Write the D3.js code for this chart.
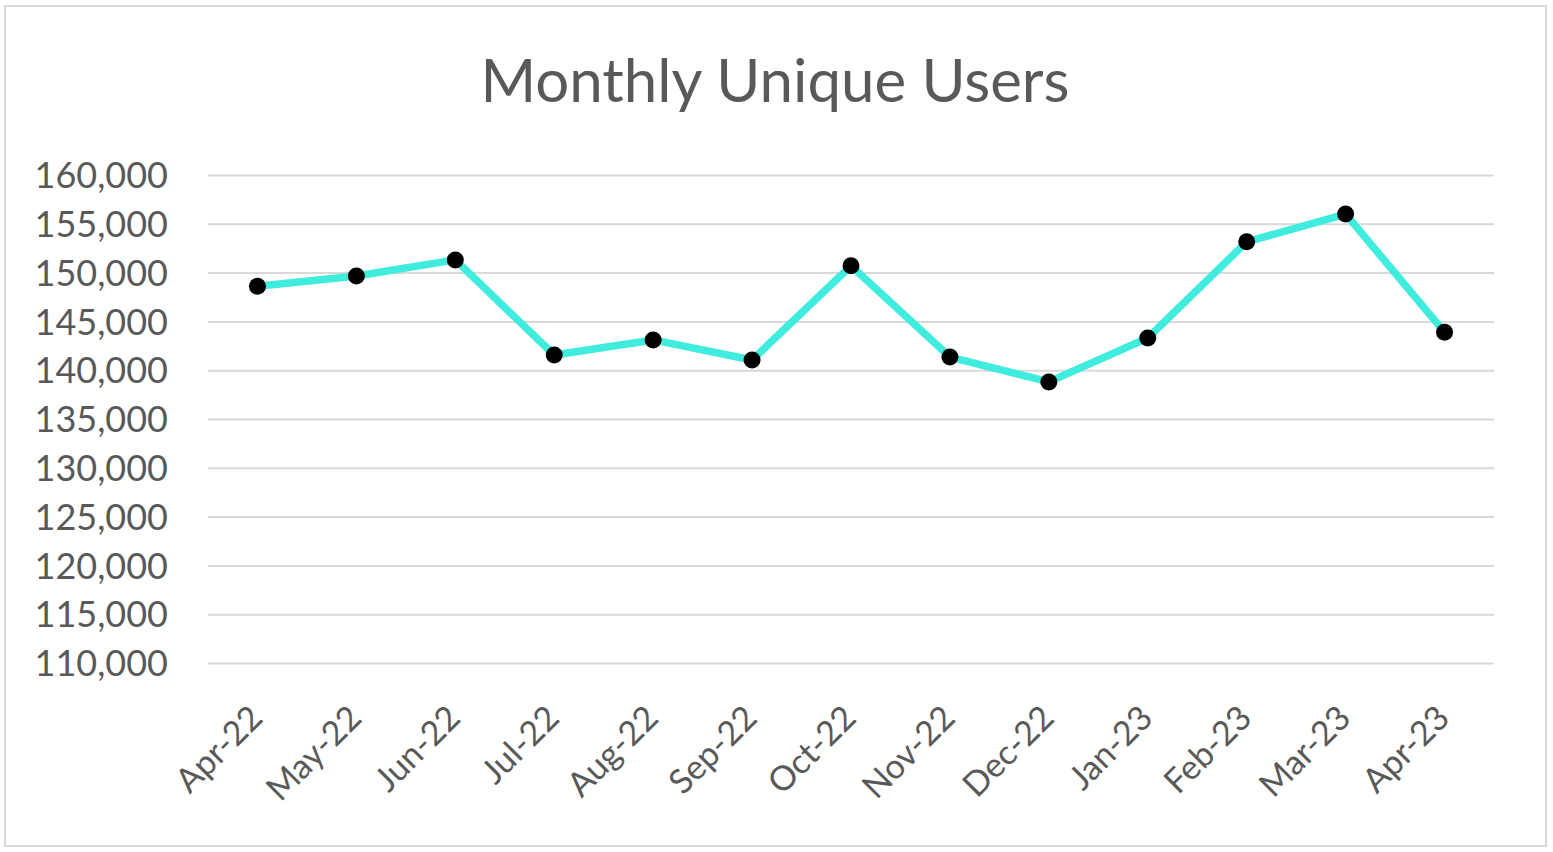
<!DOCTYPE html>
<html>
<head>
<meta charset="utf-8">
<script src="https://cdn.jsdelivr.net/npm/d3@7"></script>
<style>
  html, body { margin: 0; padding: 0; background: #fff; }
  svg { display: block; }
</style>
</head>
<body>
<div id="chart"></div>
<script>
// Monthly unique users
const months = ['Apr-22', 'May-22', 'Jun-22', 'Jul-22', 'Aug-22', 'Sep-22', 'Oct-22',
                'Nov-22', 'Dec-22', 'Jan-23', 'Feb-23', 'Mar-23', 'Apr-23'];
const users = [148600, 149650, 151300, 141550, 143100, 141050, 150700,
               141350, 138800, 143300, 153150, 156000, 143900];
const yTicks = [110000, 115000, 120000, 125000, 130000, 135000, 140000,
                145000, 150000, 155000, 160000];

const width = 1553;
const height = 852;
const margin = { top: 175, right: 59, bottom: 189, left: 208 };
const textColor = '#595959';
const fontFamily = 'Lato, "Open Sans", sans-serif';

const svg = d3.select('#chart')
    .append('svg')
    .attr('width', width)
    .attr('height', height);

// Chart frame
svg.append('rect')
    .attr('x', 5)
    .attr('y', 6)
    .attr('width', 1541)
    .attr('height', 840)
    .attr('fill', '#fff')
    .attr('stroke', '#d9d9d9')
    .attr('stroke-width', 2);

// Title
svg.append('text')
    .attr('x', 775)
    .attr('y', 102)
    .attr('text-anchor', 'middle')
    .attr('font-family', fontFamily)
    .attr('font-size', 60)
    .attr('fill', textColor)
    .text('Monthly Unique Users');

const x = d3.scaleBand()
    .domain(months)
    .range([margin.left, width - margin.right]);

const y = d3.scaleLinear()
    .domain([110000, 160000])
    .range([height - margin.bottom, margin.top]);

// Gridlines + y labels
const yAxis = svg.append('g')
    .attr('transform', `translate(${margin.left},0)`)
    .call(d3.axisLeft(y)
        .tickValues(yTicks)
        .tickFormat(d3.format(','))
        .tickSize(-(width - margin.left - margin.right))
        .tickPadding(40));
yAxis.select('.domain').remove();
yAxis.selectAll('.tick line')
    .attr('stroke', '#d9d9d9')
    .attr('stroke-width', 2);
yAxis.selectAll('.tick text')
    .attr('font-family', fontFamily)
    .attr('font-size', 36)
    .attr('fill', textColor)
    .attr('dy', '0.35em');

// X labels, rotated
const xAxis = svg.append('g')
    .attr('transform', `translate(0,${height - margin.bottom})`)
    .call(d3.axisBottom(x).tickSize(0).tickPadding(0));
xAxis.select('.domain').remove();
xAxis.selectAll('.tick text')
    .attr('font-family', fontFamily)
    .attr('font-size', 34)
    .attr('fill', textColor)
    .attr('text-anchor', 'end')
    .attr('dy', 0)
    .attr('transform', 'translate(7,57) rotate(-45)');

// Line
const line = d3.line()
    .x((d, i) => x(months[i]) + x.bandwidth() / 2)
    .y(d => y(d));

svg.append('path')
    .datum(users)
    .attr('fill', 'none')
    .attr('stroke', '#40ECDE')
    .attr('stroke-width', 7.5)
    .attr('stroke-linejoin', 'round')
    .attr('d', line);

// Markers
svg.selectAll('.dot')
    .data(users)
    .enter()
    .append('circle')
    .attr('class', 'dot')
    .attr('cx', (d, i) => x(months[i]) + x.bandwidth() / 2)
    .attr('cy', d => y(d))
    .attr('r', 8.5)
    .attr('fill', '#000');
</script>
</body>
</html>
